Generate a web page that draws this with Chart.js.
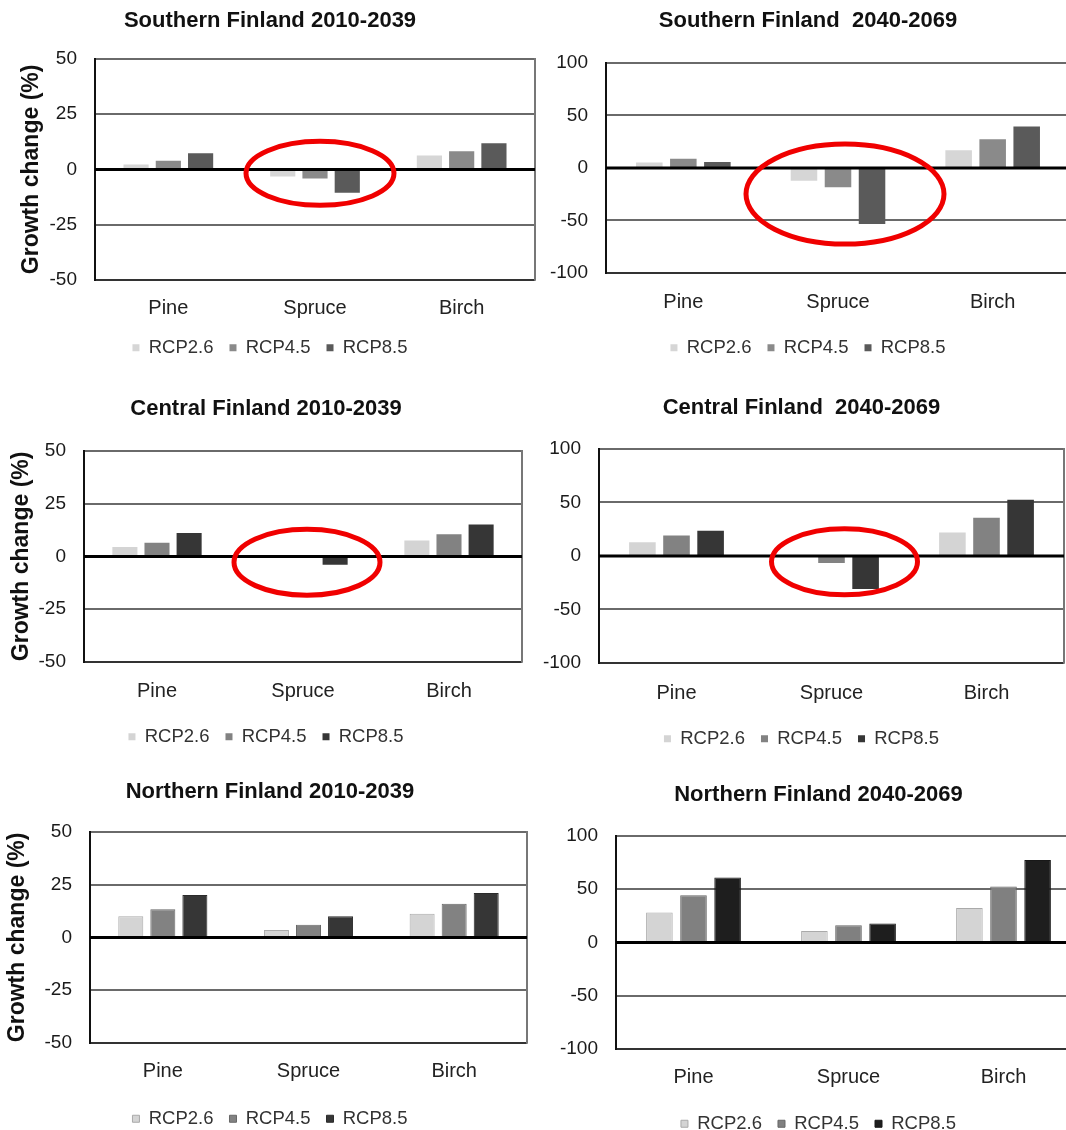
<!DOCTYPE html>
<html><head><meta charset="utf-8">
<script src="https://cdn.jsdelivr.net/npm/chart.js@4.4.1/dist/chart.umd.min.js"></script>
<style>
html,body{margin:0;padding:0;background:#fff;overflow:hidden;width:1066px;height:1130px;position:relative}
canvas{position:absolute}
</style></head><body>
<canvas id="c1"></canvas><canvas id="c2"></canvas>
<canvas id="c3"></canvas><canvas id="c4"></canvas>
<canvas id="c5"></canvas><canvas id="c6"></canvas>
<script>
// ---- data ----
const categories = ['Pine', 'Spruce', 'Birch'];
const scenarioLabels = ['RCP2.6', 'RCP4.5', 'RCP8.5'];
const ticksNarrow = [-50, -25, 0, 25, 50];
const ticksWide = [-100, -50, 0, 50, 100];

const southEarly26 = [2.2, -3.2, 6.3];
const southEarly45 = [3.9, -4.1, 8.2];
const southEarly85 = [7.3, -10.6, 11.8];
const southLate26 = [5.2, -12.3, 16.8];
const southLate45 = [8.7, -18.4, 27.4];
const southLate85 = [5.5, -53.5, 39.5];
const centralEarly26 = [4.4, -0.3, 7.5];
const centralEarly45 = [6.5, -0.5, 10.5];
const centralEarly85 = [11.1, -4.0, 15.1];
const centralLate26 = [12.8, -0.8, 21.9];
const centralLate45 = [19.0, -6.6, 35.6];
const centralLate85 = [23.4, -31.0, 52.5];
const northEarly26 = [10.0, 3.5, 11.2];
const northEarly45 = [13.4, 6.0, 16.0];
const northEarly85 = [20.1, 10.0, 21.0];
const northLate26 = [28.0, 10.6, 32.4];
const northLate45 = [44.2, 16.2, 52.6];
const northLate85 = [61.0, 17.8, 77.5];

const titles = ['Southern Finland 2010-2039', 'Southern Finland  2040-2069',
                'Central Finland 2010-2039', 'Central Finland  2040-2069',
                'Northern Finland 2010-2039', 'Northern Finland 2040-2069'];
const yAxisTitle = 'Growth change (%)';

// ---- layout / style (not data) ----
const FONT = "'Liberation Sans', Arial, sans-serif";
const greysA = ['#d6d6d6', '#8a8a8a', '#5a5a5a'];
const greysB = ['#d4d4d4', '#828282', '#363636'];
const greysC = ['#d4d4d4', '#808080', '#1e1e1e'];

const panels = [
  {id:'c1', title:titles[0], series:[southEarly26, southEarly45, southEarly85], ticks:ticksNarrow, yTitle:true,
   colors:greysA, bw:0,
   box:{x0:0, Cx:270, L:95, R:535, T:59, B:280, y0:0, titleY:20, catY:307, legY:346, yTitleX:32},
   ring:{cat:1, dx:5, val:-1.8, rx:74, ry:32}},
  {id:'c2', title:titles[1], series:[southLate26, southLate45, southLate85], ticks:ticksWide, yTitle:false,
   colors:greysA, bw:0,
   box:{x0:540, Cx:813, L:606, R:1070, T:63, B:273, y0:0, titleY:20, catY:301, legY:346},
   ring:{cat:1, dx:7, val:-25, rx:99, ry:50}},
  {id:'c3', title:titles[2], series:[centralEarly26, centralEarly45, centralEarly85], ticks:ticksNarrow, yTitle:true,
   colors:greysB, bw:0,
   box:{x0:0, Cx:266, L:84, R:522, T:451, B:662, y0:380, titleY:408, catY:690, legY:735, yTitleX:22},
   ring:{cat:1, dx:4, val:-2.8, rx:73, ry:33}},
  {id:'c4', title:titles[3], series:[centralLate26, centralLate45, centralLate85], ticks:ticksWide, yTitle:false,
   colors:greysB, bw:0,
   box:{x0:538, Cx:810, L:599, R:1064, T:449, B:663, y0:380, titleY:407, catY:692, legY:737},
   ring:{cat:1, dx:13, val:-5.6, rx:73, ry:33}},
  {id:'c5', title:titles[4], series:[northEarly26, northEarly45, northEarly85], ticks:ticksNarrow, yTitle:true,
   colors:greysB, bw:1,
   box:{x0:0, Cx:270, L:90, R:527, T:832, B:1043, y0:765, titleY:791, catY:1070, legY:1117, yTitleX:18},
   ring:null},
  {id:'c6', title:titles[5], series:[northLate26, northLate45, northLate85], ticks:ticksWide, yTitle:false,
   colors:greysC, bw:1,
   box:{x0:540, Cx:824, L:616, R:1081, T:836, B:1049, y0:765, titleY:794, catY:1076, legY:1122},
   ring:null}
];

const decorPlugin = {
  id: 'decor',
  beforeDatasetsDraw(chart) {
    const {ctx, chartArea: a} = chart;
    ctx.save();
    ctx.strokeStyle = '#777';
    ctx.lineWidth = 2;
    ctx.beginPath();
    ctx.moveTo(a.right, a.top - 1);
    ctx.lineTo(a.right, a.bottom + 1);
    ctx.stroke();
    ctx.restore();
  },
  afterDatasetsDraw(chart, args, opts) {
    const {ctx, chartArea: a} = chart;
    const y0 = chart.scales.y.getPixelForValue(0);
    ctx.save();
    ctx.strokeStyle = '#000';
    ctx.lineWidth = 3;
    ctx.beginPath();
    ctx.moveTo(a.left, y0);
    ctx.lineTo(a.right, y0);
    ctx.stroke();
    if (opts && opts.ring) {
      const r = opts.ring;
      const cx = chart.scales.x.getPixelForValue(r.cat) + r.dx;
      const cy = chart.scales.y.getPixelForValue(r.val);
      ctx.beginPath();
      ctx.ellipse(cx, cy, r.rx, r.ry, 0, 0, Math.PI * 2);
      ctx.strokeStyle = '#f00000';
      ctx.lineWidth = 5;
      ctx.stroke();
    }
    ctx.restore();
  }
};

function shade(hex, f) {
  const n = parseInt(hex.slice(1), 16);
  const r = Math.round(((n >> 16) & 255) * f), g = Math.round(((n >> 8) & 255) * f), b = Math.round((n & 255) * f);
  return 'rgb(' + r + ',' + g + ',' + b + ')';
}

function makeChart(p) {
  const c = document.getElementById(p.id);
  const b = p.box;
  const tf = 22, cf = 20, lf = 18.5, lp = 16, yf = 23, tkf = 19;
  const textShift = 2;
  const catY = b.catY + textShift, legY = b.legY + textShift;
  // left edge of the full-size boxes; keep room for the widest tick label
  const a = Math.max(b.x0, Math.min(2 * b.Cx - b.R, b.L - 18 - 42));
  const padL = a - b.x0;
  const padR = 6;
  const w = b.R + padR - b.x0;
  const legTop = legY - (lp + lf / 2);
  const h = legTop + lf + lp + 10 - b.y0;
  c.width = w; c.height = h;
  c.style.left = b.x0 + 'px'; c.style.top = b.y0 + 'px';
  const tPadTop = b.titleY + 1 - b.y0 - 0.6 * tf;
  const tPadBot = b.T - b.y0 - tPadTop - 1.2 * tf;
  const xH = legTop - b.B;
  const xPad = catY - b.B - 0.6 * cf;
  const yW = b.L - a;
  const yTitlePad = b.yTitleX ? (b.yTitleX - a - 0.6 * yf) : 0;
  const tks = p.ticks;
  const yMin = Math.min(...tks), yMax = Math.max(...tks);

  new Chart(c, {
    type: 'bar',
    data: {
      labels: categories,
      datasets: p.series.map((vals, i) => ({
        label: scenarioLabels[i],
        data: vals,
        backgroundColor: p.colors[i],
        borderColor: shade(p.colors[i], 0.8),
        borderWidth: p.bw,
        categoryPercentage: 0.66,
        barPercentage: 0.78
      }))
    },
    options: {
      responsive: false,
      animation: false,
      devicePixelRatio: 1,
      layout: {padding: {left: padL, right: padR, top: 0, bottom: 0}},
      plugins: {
        title: {display: true, text: p.title, color: '#111',
                font: {family: FONT, size: tf, weight: 'bold', lineHeight: 1.2},
                padding: {top: tPadTop, bottom: tPadBot}},
        legend: {position: 'bottom',
                 labels: {boxWidth: 7, boxHeight: 7, padding: lp, color: '#333',
                          font: {family: FONT, size: lf}}},
        tooltip: {enabled: false},
        decor: {ring: p.ring}
      },
      scales: {
        x: {
          grid: {display: false, drawTicks: false},
          border: {display: false},
          ticks: {color: '#222', padding: xPad, font: {family: FONT, size: cf}, maxRotation: 0},
          afterFit(s) { s.height = xH; }
        },
        y: {
          min: yMin, max: yMax,
          afterBuildTicks(s) { s.ticks = tks.map(v => ({value: v})); },
          grid: {
            drawTicks: false,
            lineWidth: 2,
            color: ctx => {
              const v = ctx.tick ? ctx.tick.value : null;
              if (v === 0) return '#000';
              if (v === yMin) return '#333';
              return '#6a6a6a';
            }
          },
          border: {display: true, color: '#111', width: 2},
          ticks: {color: '#1a1a1a', padding: 18, font: {family: FONT, size: tkf}},
          title: {display: p.yTitle, text: yAxisTitle, color: '#111',
                  font: {family: FONT, size: yf, weight: 'bold', lineHeight: 1.2},
                  padding: {top: yTitlePad, bottom: 0}},
          afterFit(s) { s.width = yW; }
        }
      }
    },
    plugins: [decorPlugin]
  });
}
panels.forEach(makeChart);
</script>
</body></html>
